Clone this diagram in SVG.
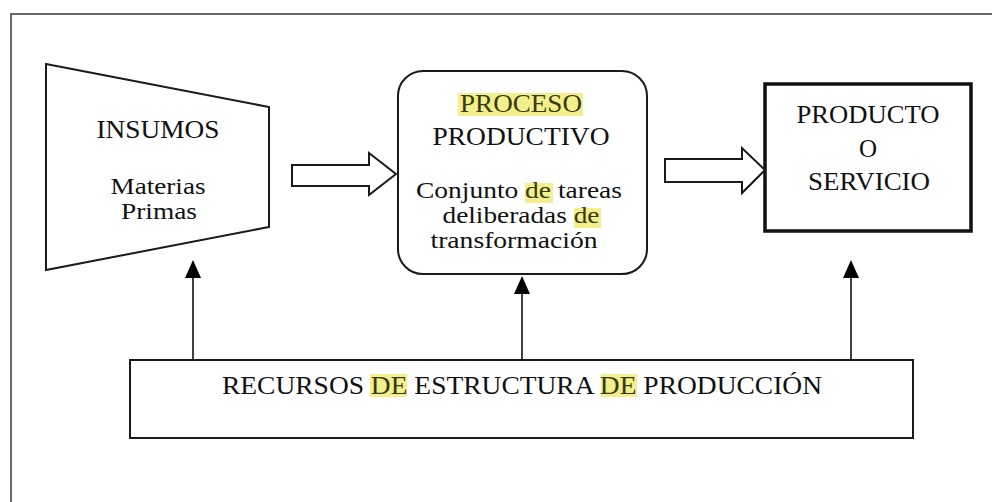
<svg xmlns="http://www.w3.org/2000/svg" width="992" height="502" viewBox="0 0 992 502">
<style>
  .t { font-family: "Liberation Serif", "Times New Roman", serif; fill: #111; text-anchor: middle; }
  .big { font-size: 25px; }
  .sm { font-size: 22.5px; }
  .hl { fill: #f2ef8c; }
  .hlt { fill: #3a3a12; }
  .box { fill: #fff; stroke: #1a1a1a; stroke-width: 2; }
  .blk { fill: #fff; stroke: #1a1a1a; stroke-width: 2; stroke-linejoin: miter; }
  .con { stroke: #111; stroke-width: 1.6; fill: none; marker-end: url(#ah); }
</style>
<defs>
  <marker id="ah" viewBox="0 0 18 16" markerWidth="18" markerHeight="16" refX="16" refY="8" orient="auto" markerUnits="userSpaceOnUse">
    <path d="M0,0 L18,8 L0,16 Z" fill="#000"/>
  </marker>
</defs>
<rect width="992" height="502" fill="#fff"/>
<rect x="11" y="14" width="1000" height="520" fill="none" stroke="#444" stroke-width="1.6"/>

<g id="insumos">
  <polygon class="box" points="46,64 269,107 269,227 46,270"/>
  <text class="t big" x="158" y="138" textLength="123" lengthAdjust="spacingAndGlyphs">INSUMOS</text>
  <text class="t sm" x="158" y="194" textLength="95" lengthAdjust="spacingAndGlyphs">Materias</text>
  <text class="t sm" x="159" y="219" textLength="76" lengthAdjust="spacingAndGlyphs">Primas</text>
</g>

<g id="proceso">
  <rect class="box" x="398" y="71" width="249" height="203" rx="25" ry="25"/>
  <rect class="hl" x="458" y="93" width="125" height="23"/>
  <rect class="hl" x="525" y="183" width="28" height="20"/>
  <rect class="hl" x="574" y="208" width="27" height="20"/>
  <text class="t big hlt" x="521" y="112" textLength="122" lengthAdjust="spacingAndGlyphs">PROCESO</text>
  <text class="t big" x="521" y="145" textLength="177" lengthAdjust="spacingAndGlyphs">PRODUCTIVO</text>
  <text class="t sm" x="519" y="198" textLength="206" lengthAdjust="spacingAndGlyphs">Conjunto <tspan class="hlt">de</tspan> tareas</text>
  <text class="t sm" x="521" y="223" textLength="157" lengthAdjust="spacingAndGlyphs">deliberadas <tspan class="hlt">de</tspan></text>
  <text class="t sm" x="514" y="248" textLength="167" lengthAdjust="spacingAndGlyphs">transformación</text>
</g>

<g id="producto">
  <rect x="765" y="84" width="206" height="147" fill="#fff" stroke="#111" stroke-width="3.5"/>
  <text class="t big" x="868" y="123" textLength="143" lengthAdjust="spacingAndGlyphs">PRODUCTO</text>
  <text class="t big" x="868" y="157">O</text>
  <text class="t big" x="869" y="190" textLength="122" lengthAdjust="spacingAndGlyphs">SERVICIO</text>
</g>

<g id="recursos">
  <rect class="box" x="130" y="360" width="783" height="78"/>
  <rect class="hl" x="370" y="374" width="37" height="23"/>
  <rect class="hl" x="601" y="374" width="36" height="23"/>
  <text class="t big" x="522" y="394" textLength="600" lengthAdjust="spacingAndGlyphs">RECURSOS <tspan class="hlt">DE</tspan> ESTRUCTURA <tspan class="hlt">DE</tspan> PRODUCCIÓN</text>
</g>

<g id="connectors">
  <path class="blk" d="M292,165 L369,165 L369,153 L396,174 L369,195 L369,186 L292,186 Z"/>
  <path class="blk" d="M665,159 L742,159 L742,148 L765,170 L742,193 L742,182 L665,182 Z"/>
  <line class="con" x1="193" y1="360" x2="193" y2="262"/>
  <line class="con" x1="522" y1="360" x2="522" y2="278"/>
  <line class="con" x1="851" y1="360" x2="851" y2="262"/>
</g>
</svg>
